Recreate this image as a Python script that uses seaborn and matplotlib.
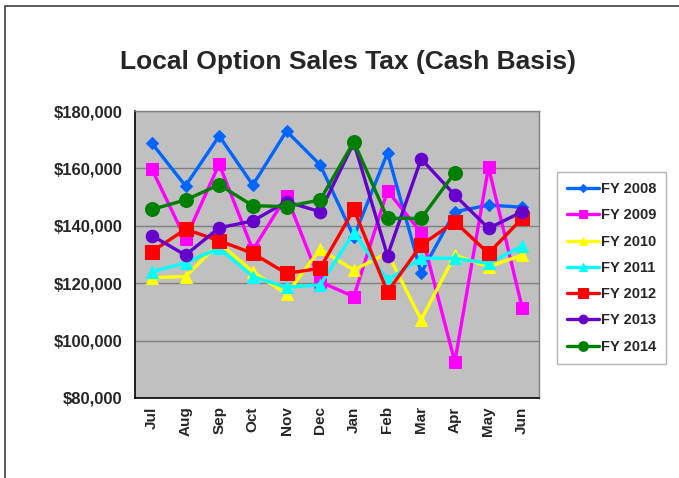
import numpy as np
import pandas as pd
import matplotlib
matplotlib.use('Agg')
import matplotlib.pyplot as plt
import matplotlib.ticker as mticker
from matplotlib.patches import Rectangle
import seaborn as sns

months = ['Jul', 'Aug', 'Sep', 'Oct', 'Nov', 'Dec',
          'Jan', 'Feb', 'Mar', 'Apr', 'May', 'Jun']

fy2008 = [168800, 153900, 171300, 154200, 173000, 161200,
          136200, 165400, 123600, 144900, 147200, 146500]
fy2009 = [159800, 135400, 161500, 131600, 150400, 120500,
          115300, 152200, 137600, 92600, 160400, 111400]
fy2010 = [121900, 122300, 134000, 124000, 116200, 131800,
          124600, 130500, 107200, 129800, 125700, 129800]
fy2011 = [124000, 127100, 132200, 122300, 118600, 119400,
          137600, 121100, 128700, 128700, 126900, 132900]
fy2012 = [131000, 138800, 134800, 130400, 123400, 125200,
          145700, 117000, 133300, 141400, 130400, 142600]
fy2013 = [136600, 129800, 139300, 141700, 148400, 144900,
          169000, 129600, 163300, 150700, 139100, 144900]
fy2014 = [145700, 149000, 154300, 147000, 146700, 149000,
          169300, 142600, 142600, 158500, np.nan, np.nan]

series_names = ['FY 2008', 'FY 2009', 'FY 2010', 'FY 2011',
                'FY 2012', 'FY 2013', 'FY 2014']
series_values = [fy2008, fy2009, fy2010, fy2011, fy2012, fy2013, fy2014]

colors = ['#0066FF', '#FF00FF', '#FFFF00', '#00FFFF',
          '#FF0000', '#6600CC', '#008000']
markers = ['D', 's', '^', '^', 's', 'o', 'o']
msizes = [6, 8, 8, 8, 10, 9, 10]

rows = []
for name, vals in zip(series_names, series_values):
    for i, v in enumerate(vals):
        rows.append({'Series': name, 'Month': i, 'Value': v})
df = pd.DataFrame(rows)

sns.set_style('white')
plt.rcParams['font.family'] = ['Liberation Sans', 'DejaVu Sans']
plt.rcParams['font.weight'] = 'bold'

fig = plt.figure(figsize=(6.79, 4.78), dpi=100)
W, H = 679, 478
ax = fig.add_axes([135 / W, (H - 398) / H, 404 / W, 287 / H])
ax.set_facecolor('#C0C0C0')

for name, c, m, ms in zip(series_names, colors, markers, msizes):
    sub = df[df['Series'] == name].dropna()
    sns.lineplot(data=sub, x='Month', y='Value', ax=ax, color=c,
                 marker=m, markersize=ms, markeredgecolor=c,
                 linewidth=2.4, label=name, zorder=3)

ax.set_xlim(-0.5, 11.5)
ax.set_ylim(80000, 180000)
ax.set_xticks(range(12))
ax.set_xticklabels(months, rotation=90, fontsize=11, fontweight='bold')
ax.set_xticks(np.arange(-0.5, 12, 1), minor=True)
ax.tick_params(axis='x', which='major', length=0, pad=6)
ax.tick_params(axis='x', which='minor', length=5, color='#808080', direction='out')
ax.set_yticks(np.arange(80000, 180001, 20000))
ax.yaxis.set_major_formatter(mticker.FuncFormatter(lambda v, p: f'${v:,.0f}'))
ax.tick_params(axis='y', length=5, color='#808080', direction='out', labelsize=12, pad=4)
for lab in ax.get_yticklabels():
    lab.set_fontweight('bold')
ax.grid(axis='y', color='#808080', linewidth=1)
ax.set_axisbelow(True)
ax.set_xlabel('')
ax.set_ylabel('')
for s in ['left', 'bottom']:
    ax.spines[s].set_color('black')
    ax.spines[s].set_linewidth(1.2)
for s in ['top', 'right']:
    ax.spines[s].set_color('#808080')
    ax.spines[s].set_linewidth(1)

leg = ax.legend(loc='upper left', bbox_to_anchor=(557 / W, 1 - 172 / H),
                bbox_transform=fig.transFigure, frameon=True, fancybox=False,
                borderaxespad=0, handlelength=2.2, handletextpad=0.1,
                labelspacing=0.84, borderpad=0.7, markerscale=0.7,
                prop={'size': 10.5, 'weight': 'bold'})
leg.get_frame().set_edgecolor('#A0A0A0')
leg.get_frame().set_linewidth(1)

fig.text(0.5 * (118 + 578) / W, 1 - 62 / H, 'Local Option Sales Tax (Cash Basis)',
         ha='center', va='center', fontsize=19, fontweight='bold')

fig.patches.append(Rectangle((5 / W, -0.1), 1.2, 1 - 6 / H + 0.1,
                             transform=fig.transFigure, fill=False,
                             edgecolor='#404040', linewidth=1.2))

fig.savefig('out.png', dpi=100)
